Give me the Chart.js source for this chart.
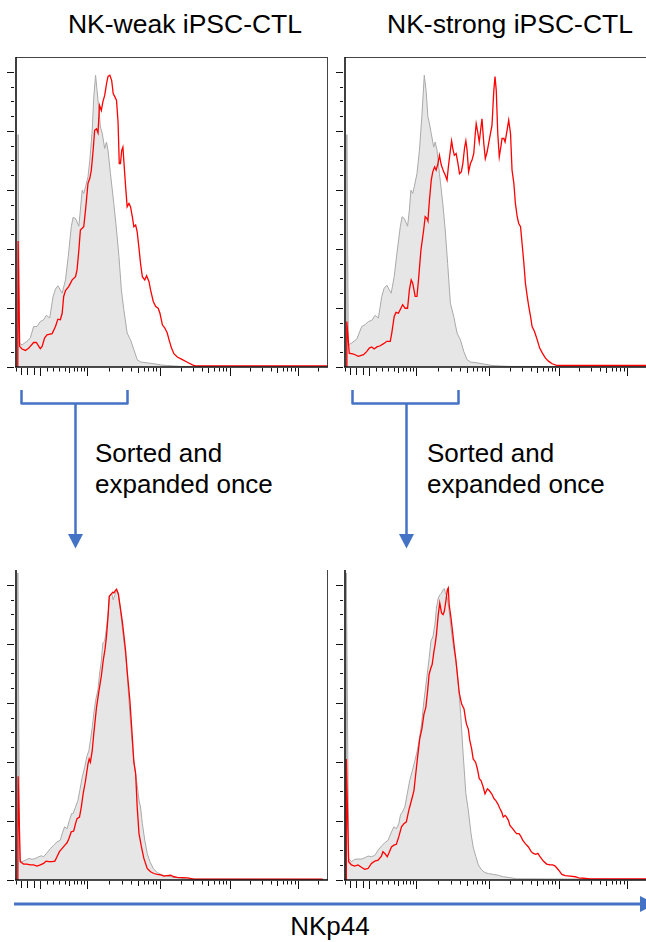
<!DOCTYPE html>
<html>
<head>
<meta charset="utf-8">
<script src="https://cdn.jsdelivr.net/npm/chart.js@4.4.1/dist/chart.umd.min.js"></script>
<style>
  html, body { margin: 0; padding: 0; background: #fff; }
  body { width: 646px; height: 942px; overflow: hidden; position: relative;
         font-family: "Liberation Sans", Arial, Helvetica, sans-serif; color: #000; }
  canvas { position: absolute; }
  .txt { position: absolute; white-space: nowrap; }
  .title { font-size: 26.5px; line-height: 30px; width: 320px; text-align: center; }
  .note { font-size: 26px; line-height: 31px; }
  .xlabel { font-size: 26px; line-height: 30px; width: 200px; text-align: center; }
  svg { position: absolute; left: 0; top: 0; }
</style>
</head>
<body>

<div class="txt title" id="t0" style="left:25px; top:9px;"></div>
<div class="txt title" id="t1" style="left:350px; top:9px;"></div>
<div class="txt note" id="n0" style="left:95px; top:438px;"></div>
<div class="txt note" id="n1" style="left:427px; top:438px;"></div>
<div class="txt xlabel" id="xl" style="left:230px; top:911px;"></div>

<canvas id="c0" width="340" height="340" style="left:0px; top:47px;"></canvas>
<canvas id="c1" width="340" height="340" style="left:329px; top:47px;"></canvas>
<canvas id="c2" width="340" height="340" style="left:0px; top:560px;"></canvas>
<canvas id="c3" width="340" height="340" style="left:329px; top:560px;"></canvas>

<svg width="646" height="942" viewBox="0 0 646 942">
  <g fill="none" stroke="#4472C4" stroke-width="2.5" stroke-linejoin="round">
    <path d="M21.5 390 V403.5 H127.5 V390"/>
    <path d="M75.5 403.5 V536"/>
    <path d="M352.5 390 V403.5 H458.5 V390"/>
    <path d="M406.5 403.5 V536"/>
  </g>
  <g fill="#4472C4">
    <polygon points="68,534 83,534 75.5,548.5"/>
    <polygon points="399,534 414,534 406.5,548.5"/>
  </g>
  <line x1="14" y1="904" x2="641" y2="904" stroke="#4472C4" stroke-width="3"/>
  <polygon points="640,896 656,904 640,912" fill="#4472C4"/>
</svg>

<script>
// ---- text ----
const panelTitles = ['NK-weak iPSC-CTL', 'NK-strong iPSC-CTL'];
const sortNote = ['Sorted and', 'expanded once'];
const axisLabel = 'NKp44';

// ---- axes ----
// display channels (0-1024) of the decade marks 0, 10^3, 10^4, 10^5, 10^6
const decadeChannels = [80, 234, 473, 703, 928];
const channelMax = 1024;
const yMax = 105;            // % of mode
const yMajorStep = 20;
const yMinorStep = 5;

// ---- histograms: [channel, % of mode] ----
// NK-weak iPSC-CTL, isotype control
const weakCtrl = [[5,0],[7,78.7],[11,8.1],[20,7.5],[36,8.7],[47,9.8],[58,13.7],[69,13.7],[80,15.4],[91,16.0],[100,17.5],[111,16.6],[122,23.9],[130,26.4],[138,27.5],[146,26.1],[152,25.0],[163,29.5],[172,37.4],[182,47.5],[188,50.7],[196,50.3],[207,47.7],[212,53.2],[218,59.9],[223,58.8],[229,61.0],[237,64.4],[243,70.0],[251,80.2],[256,91.4],[262,98.8],[267,93.7],[273,86.9],[278,81.3],[284,79.1],[292,74.0],[298,76.2],[303,73.4],[311,65.5],[322,55.4],[331,46.4],[339,37.4],[347,26.1],[355,19.4],[366,11.5],[377,9.2],[388,5.9],[399,2.5],[410,1.7],[432,1.4],[454,1.1],[476,0.7],[498,0.5],[542,0.2],[1024,0.1]];
// NK-weak iPSC-CTL, NKp44 stain
const weakNKp44 = [[6,0],[7,42.7],[12,7.0],[20,6.1],[31,5.6],[42,6.4],[58,8.3],[67,8.3],[75,7.0],[80,6.2],[86,7.0],[94,9.8],[102,10.9],[119,11.3],[130,13.7],[138,16.2],[146,16.0],[152,18.2],[157,23.9],[163,25.9],[174,27.3],[185,29.5],[196,30.6],[201,32.9],[207,39.6],[212,46.4],[218,47.0],[223,47.5],[229,53.2],[237,62.2],[243,63.9],[248,66.7],[254,73.4],[259,80.2],[265,80.7],[270,79.3],[275,88.6],[281,86.9],[286,89.8],[292,92.0],[298,95.9],[303,98.4],[309,98.8],[315,97.1],[320,92.6],[326,91.4],[331,90.3],[336,83.0],[340,68.9],[344,68.9],[348,73.4],[352,74.5],[355,69.9],[361,61.0],[366,54.3],[372,55.4],[377,54.3],[383,50.9],[388,47.5],[394,48.1],[399,45.8],[405,40.2],[410,35.1],[416,30.6],[424,29.5],[430,30.9],[438,28.9],[443,26.1],[452,22.2],[460,20.5],[468,19.9],[474,18.2],[482,14.3],[490,13.2],[498,11.5],[504,9.2],[512,6.4],[520,4.5],[531,3.4],[548,2.5],[564,1.6],[581,0.7],[590,0.4],[1024,0.4]];
// NK-strong iPSC-CTL, isotype control
const strongCtrl = [[5,0],[6,78.7],[11,7.5],[22,8.1],[39,9.5],[55,13.7],[66,14.3],[77,15.4],[88,15.8],[99,17.5],[110,16.6],[121,23.9],[129,26.7],[138,27.7],[146,26.1],[152,25.0],[162,30.6],[171,38.5],[182,47.5],[188,50.9],[195,50.3],[206,47.7],[212,53.2],[217,59.9],[223,58.8],[228,61.0],[237,65.5],[245,73.4],[253,84.7],[261,98.8],[267,93.7],[273,84.7],[277,83.0],[284,79.1],[292,74.5],[297,76.2],[303,73.4],[311,65.5],[322,55.4],[330,46.4],[338,35.1],[347,21.6],[358,17.1],[369,11.5],[380,9.2],[391,5.3],[402,2.5],[413,1.7],[435,1.4],[457,1.0],[484,0.5],[540,0.2],[1024,0.1]];
// NK-strong iPSC-CTL, NKp44 stain
const strongNKp44 = [[5,0],[6,15.4],[14,4.7],[28,4.4],[44,3.6],[61,4.2],[72,5.3],[80,6.4],[88,6.8],[96,6.1],[105,6.8],[116,7.2],[127,7.9],[138,8.7],[149,8.7],[154,11.5],[162,17.1],[168,18.5],[176,18.2],[184,19.9],[190,21.1],[198,19.9],[206,19.9],[212,26.1],[218,29.5],[223,28.4],[231,23.9],[237,23.9],[242,29.5],[250,39.6],[259,46.4],[264,50.9],[270,50.3],[273,49.5],[278,56.5],[284,63.3],[289,66.1],[295,67.8],[300,66.7],[306,68.9],[311,71.7],[317,68.4],[325,66.1],[330,65.0],[336,63.3],[341,68.4],[347,73.4],[351,76.6],[355,74.0],[360,71.7],[366,72.3],[372,68.9],[377,65.5],[383,66.1],[388,68.9],[394,74.5],[398,76.6],[402,73.4],[407,66.1],[413,68.9],[418,70.0],[424,72.3],[429,79.1],[432,82.4],[437,79.6],[442,76.2],[447,80.7],[451,84.1],[457,75.7],[462,70.6],[468,72.9],[476,77.4],[484,81.9],[490,93.7],[494,98.4],[498,93.7],[503,79.1],[508,71.2],[514,75.1],[517,77.4],[523,77.4],[527,76.2],[531,78.5],[539,83.6],[545,79.1],[550,66.7],[556,62.2],[561,55.4],[567,50.9],[572,48.6],[578,47.5],[583,41.9],[589,35.1],[594,28.4],[600,23.9],[605,20.5],[611,17.1],[616,13.7],[624,12.0],[633,9.2],[641,6.4],[650,4.7],[660,3.0],[671,1.9],[682,1.1],[699,0.5],[1024,0.5]];
// Sorted NK-weak cells after one expansion, control
const weakSortedCtrl = [[5,0],[6,104],[12,6.7],[20,6.2],[31,6.7],[42,7.3],[53,7.0],[64,7.3],[75,7.9],[83,8.2],[91,7.9],[102,9.2],[113,10.6],[124,11.8],[135,12.9],[146,13.5],[152,15.7],[160,18.0],[168,17.4],[176,20.2],[183,22.5],[188,22.5],[196,24.7],[204,27.0],[210,30.3],[218,34.8],[226,38.2],[234,42.1],[240,43.8],[245,47.2],[251,51.7],[256,56.2],[262,60.7],[270,64.6],[275,69.7],[281,74.2],[286,80.3],[292,80.9],[298,85.4],[304,91.0],[308,96.1],[315,97.2],[320,94.9],[326,96.6],[331,98.3],[336,97.2],[342,93.3],[350,85.4],[358,78.7],[364,73.0],[372,60.7],[380,49.4],[388,40.4],[397,33.7],[405,27.0],[410,24.7],[416,19.1],[424,13.5],[432,9.0],[441,6.2],[452,3.9],[465,2.5],[482,1.7],[498,1.3],[520,0.9],[542,0.6],[564,0.3],[1024,0.2]];
// Sorted NK-weak cells after one expansion, NKp44 stain
const weakSortedNKp44 = [[6,0],[7,35.1],[14,6.2],[25,5.4],[36,5.4],[47,5.1],[58,5.1],[69,4.7],[80,5.1],[91,5.6],[99,6.4],[108,6.2],[119,6.2],[128,6.4],[135,7.9],[143,9.6],[152,10.7],[161,11.8],[168,12.6],[174,14.0],[182,16.3],[190,16.6],[196,19.1],[201,20.8],[209,21.3],[215,24.7],[221,29.2],[229,33.7],[237,39.3],[241,41.0],[245,39.9],[251,43.8],[256,49.4],[265,58.4],[273,64.0],[281,69.1],[287,74.2],[293,78.1],[298,82.6],[303,89.3],[307,96.1],[314,96.9],[319,97.5],[322,97.2],[327,98.0],[331,98.5],[337,96.9],[342,93.3],[350,87.6],[355,83.1],[361,77.5],[366,70.8],[375,60.7],[383,48.3],[388,39.9],[394,36.0],[399,24.7],[405,15.7],[413,11.2],[421,7.3],[432,3.9],[443,2.8],[454,2.2],[465,1.9],[476,1.7],[487,1.3],[498,1.5],[509,1.6],[520,1.1],[531,0.9],[548,0.8],[564,0.7],[586,0.3],[1010,0.3]];
// Sorted NK-strong cells after one expansion, control
const strongSortedCtrl = [[4,0],[4.4,104],[12,7.3],[21,6.2],[32,7.0],[43,7.1],[54,7.1],[65,7.5],[76,8.1],[87,7.9],[98,8.3],[109,10.1],[120,11.5],[131,12.6],[142,13.5],[153,16.3],[161,18.0],[169,17.4],[177,19.1],[183,22.2],[189,23.0],[197,24.7],[205,29.2],[213,33.7],[222,37.1],[230,40.4],[238,43.8],[244,47.2],[252,52.8],[260,60.7],[268,67.4],[276,74.2],[283,80.9],[290,82.6],[296,86.5],[301,92.1],[307,95.5],[312,96.6],[318,97.2],[323,98.3],[327,98.7],[331,97.2],[337,95.5],[343,91.0],[349,85.4],[356,79.8],[365,74.2],[373,66.3],[381,56.2],[389,42.7],[398,29.2],[406,23.6],[415,15.7],[422,11.2],[431,7.9],[439,5.1],[450,3.4],[461,2.5],[472,2.2],[488,1.9],[505,1.6],[521,1.1],[543,0.8],[565,0.4],[1024,0.2]];
// Sorted NK-strong cells after one expansion, NKp44 stain
const strongSortedNKp44 = [[3.5,0],[4.4,41.0],[12,6.2],[21,5.1],[32,4.7],[43,5.1],[54,4.3],[65,3.6],[76,3.9],[87,5.6],[98,6.4],[109,6.7],[120,8.1],[125,9.6],[131,9.0],[139,7.9],[145,9.2],[153,11.2],[161,11.8],[169,12.1],[177,14.6],[186,18.0],[194,19.1],[202,19.7],[210,23.6],[219,27.0],[227,30.3],[233,36.0],[239,41.6],[246,47.8],[253,51.1],[260,56.2],[266,58.4],[272,64.0],[277,69.7],[283,71.9],[287,73.0],[293,77.5],[297,80.0],[301,83.1],[307,89.9],[312,93.8],[318,90.4],[323,89.9],[327,91.0],[332,94.4],[337,98.3],[340,98.9],[343,93.3],[349,88.8],[354,84.3],[360,78.7],[365,74.7],[370,69.7],[376,63.5],[384,59.6],[392,57.9],[396,55.1],[400,52.8],[406,51.1],[411,47.2],[417,44.4],[422,41.0],[430,39.9],[436,37.6],[442,34.3],[448,33.7],[455,31.5],[461,29.2],[469,30.9],[475,30.3],[483,29.2],[491,27.5],[496,27.0],[503,25.8],[510,24.2],[516,23.0],[521,21.3],[527,21.9],[532,21.3],[538,20.2],[543,18.5],[552,17.4],[560,16.3],[565,15.7],[573,15.7],[579,14.8],[585,13.5],[593,12.4],[604,11.2],[613,9.6],[620,9.0],[628,8.7],[635,9.0],[642,7.9],[653,6.4],[664,5.4],[675,5.1],[684,5.1],[692,4.7],[703,3.4],[714,1.9],[725,1.5],[741,1.3],[758,1.1],[769,0.7],[785,0.6],[807,0.4],[1024,0.4]];

// ---- labels ----
document.getElementById('t0').textContent = panelTitles[0];
document.getElementById('t1').textContent = panelTitles[1];
document.getElementById('n0').innerHTML = sortNote.join('<br>');
document.getElementById('n1').innerHTML = sortNote.join('<br>');
document.getElementById('xl').textContent = axisLabel;

// ---- biexponential-style tick marks along the channel axis ----
function channelTicks() {
  const ticks = [];
  const w = 457;                          // width of the linear region around zero
  const lin = v => Math.asinh(v / w) / Math.asinh(1000 / w);
  const d = decadeChannels;
  d.forEach(c => ticks.push([c, 8]));
  for (let m = 1; m <= 9; m++) ticks.push([d[0] + (d[1] - d[0]) * lin(m * 100), m === 5 ? 5 : 3.5]);
  for (let m = 1; m <= 4; m++) ticks.push([d[0] - (d[1] - d[0]) * lin(m * 100), m < 4 ? 7 : 3.5]);
  for (let k = 1; k < d.length; k++) {
    const span = k < d.length - 1 ? d[k + 1] - d[k] : d[k] - d[k - 1];
    for (let m = 2; m <= 9; m++) ticks.push([d[k] + Math.log10(m) * span, m === 5 ? 5 : 3.5]);
  }
  return ticks;
}

const cytoAxes = {
  id: 'cytoAxes',
  afterDatasetsDraw(chart, args, opts) {
    const { ctx, chartArea: a, scales: { x, y } } = chart;
    const L = Math.round(a.left), R = Math.round(a.right), T = Math.round(a.top), B = Math.round(a.bottom);
    ctx.save();
    // frame
    ctx.strokeStyle = '#444';
    ctx.lineWidth = 1;
    ctx.beginPath();
    if (opts.top) { ctx.moveTo(L, T + 0.5); ctx.lineTo(R, T + 0.5); }
    ctx.moveTo(R + 0.5, T); ctx.lineTo(R + 0.5, B);
    ctx.stroke();
    // axis lines
    ctx.strokeStyle = '#111';
    ctx.lineWidth = 1.6;
    ctx.beginPath();
    ctx.moveTo(L, T); ctx.lineTo(L, B + 0.8);
    ctx.moveTo(L - 1, B); ctx.lineTo(R + 1, B);
    ctx.stroke();
    // y ticks
    ctx.lineWidth = 1;
    ctx.strokeStyle = '#111';
    ctx.beginPath();
    for (let v = 0; v <= 100; v += yMinorStep) {
      const py = Math.round(y.getPixelForValue(v)) + 0.5;
      const len = v % yMajorStep === 0 ? 7 : 3;
      ctx.moveTo(L - 2 - len, py); ctx.lineTo(L - 2, py);
    }
    // x ticks
    channelTicks().forEach(([ch, len]) => {
      if (ch < 0 || ch > channelMax) return;
      const px = Math.round(x.getPixelForValue(ch)) + 0.5;
      ctx.moveTo(px, B + 1); ctx.lineTo(px, B + 1 + len);
    });
    ctx.stroke();
    ctx.restore();
  }
};

function toXY(arr) { return arr.map(([x, y]) => ({ x, y })); }

function histogram(id, control, stained, framedTop) {
  return new Chart(document.getElementById(id), {
    type: 'line',
    data: {
      datasets: [
        { data: toXY(stained), borderColor: '#ff0000', borderWidth: 1.3, fill: false,
          pointRadius: 0, tension: 0, order: 0 },
        { data: toXY(control), borderColor: '#a9a9a9', borderWidth: 1, backgroundColor: '#e6e6e6',
          fill: 'origin', pointRadius: 0, tension: 0, order: 1 }
      ]
    },
    options: {
      responsive: false,
      animation: false,
      events: [],
      layout: { padding: { left: 16, top: 10, right: 13, bottom: 20 } },
      scales: {
        x: { type: 'linear', min: 0, max: channelMax, display: false },
        y: { min: 0, max: yMax, display: false }
      },
      plugins: { legend: { display: false }, tooltip: { enabled: false }, cytoAxes: { top: framedTop } }
    },
    plugins: [cytoAxes]
  });
}

histogram('c0', weakCtrl, weakNKp44, true);
histogram('c1', strongCtrl, strongNKp44, true);
histogram('c2', weakSortedCtrl, weakSortedNKp44, false);
histogram('c3', strongSortedCtrl, strongSortedNKp44, false);
</script>
</body>
</html>
